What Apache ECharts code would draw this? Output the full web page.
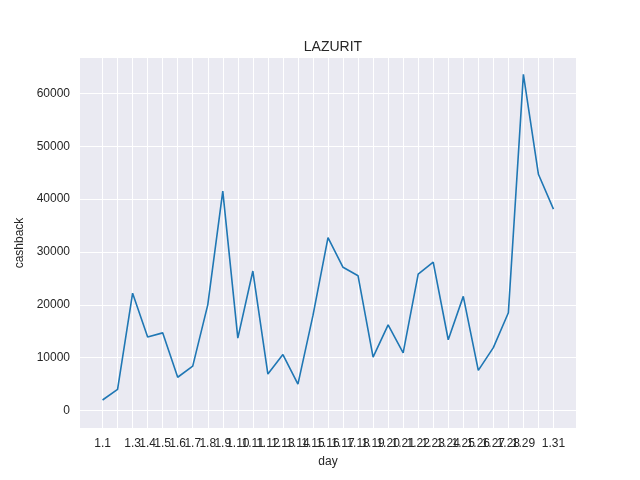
<!DOCTYPE html>
<html>
<head>
<meta charset="utf-8">
<script src="https://cdn.jsdelivr.net/npm/echarts@6/dist/echarts.min.js"></script>
<style>body{margin:0;background:#fff}#c{width:640px;height:480px}</style>
</head>
<body>
<div id="c"></div>
<script>
// days 1.1 .. 1.31
var days = [];
for (var d = 1; d <= 31; d++) days.push('1.' + d);
var cashback = [2000, 4000, 22200, 13900, 14700, 6300, 8400, 20000, 41500, 13700,
	26400, 6900, 10600, 5000, 18000, 32700, 27100, 25500, 10100, 16200,
	10900, 25800, 28100, 13400, 21600, 7600, 11900, 18500, 63600, 44700, 38100];
var yTicks = [0, 10000, 20000, 30000, 40000, 50000, 60000];
var xTicks = days.map(function (_, i) { return i; });

var chart = echarts.init(document.getElementById('c'));
var font = 'Liberation Sans, Arial, sans-serif';
chart.setOption({
	animation: false,
	title: {
		text: 'LAZURIT', left: 328, top: 35, textAlign: 'center',
		textStyle: {fontFamily: font, fontSize: 14, fontWeight: 'normal', color: '#262626'}
	},
	grid: {left: 80, right: 64, top: 58, bottom: 52, backgroundColor: '#eaeaf2', show: true, borderWidth: 0},
	xAxis: {
		type: 'value', min: -1.5, max: 31.5,
		name: 'day', nameLocation: 'middle', nameGap: 28,
		nameTextStyle: {fontFamily: font, fontSize: 12, color: '#262626'},
		axisLine: {show: false}, axisTick: {show: false, customValues: xTicks},
		axisLabel: {customValues: xTicks, hideOverlap: false, showMinLabel: true, showMaxLabel: true,
			fontFamily: font, fontSize: 12, color: '#262626', margin: 10,
			formatter: function (v) { return days[Math.round(v)]; }},
		splitLine: {show: true, lineStyle: {color: '#fff', width: 1}}
	},
	yAxis: {
		type: 'value', min: -3300, max: 66700,
		name: 'cashback', nameLocation: 'middle', nameGap: 54,
		nameTextStyle: {fontFamily: font, fontSize: 12, color: '#262626'},
		axisLine: {show: false}, axisTick: {show: false, customValues: yTicks},
		axisLabel: {customValues: yTicks, fontFamily: font, fontSize: 12, color: '#262626', margin: 10,
			formatter: function (v) { return String(v); }},
		splitLine: {show: true, lineStyle: {color: '#fff', width: 1}}
	},
	series: [{
		type: 'line', symbol: 'none',
		data: cashback.map(function (v, i) { return [i, v]; }),
		lineStyle: {color: '#1f77b4', width: 1.6}
	}]
});
</script>
</body>
</html>
